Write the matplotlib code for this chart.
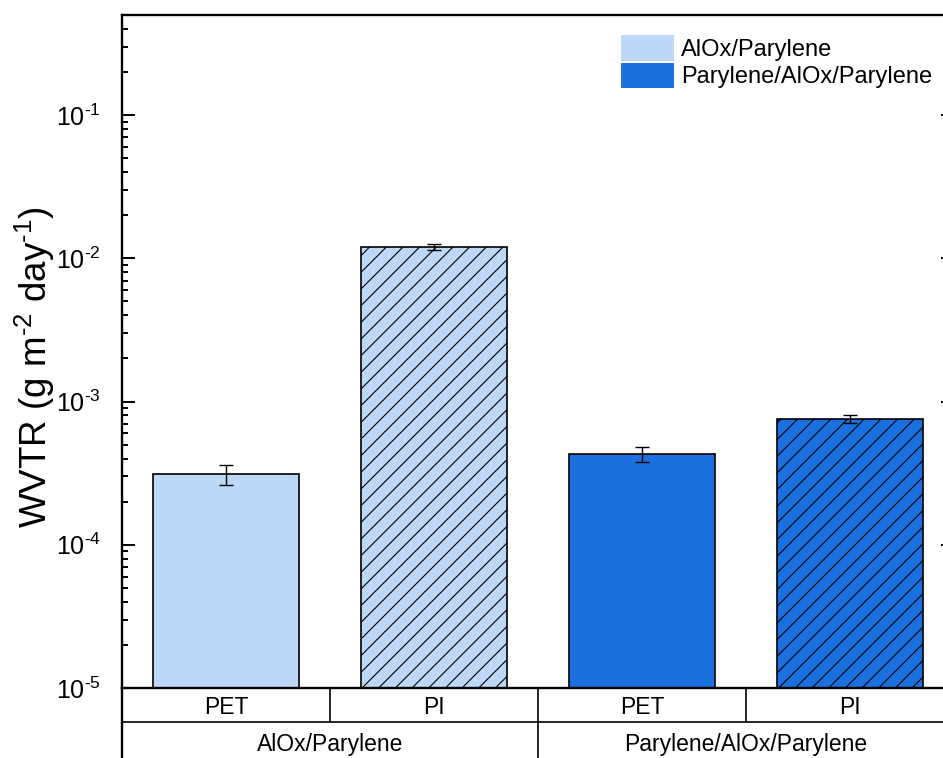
import numpy as np
import matplotlib
matplotlib.use("Agg")
import matplotlib.pyplot as plt
from matplotlib.patches import Patch
from matplotlib.ticker import FuncFormatter

plt.rcParams["font.family"] = ["Liberation Sans", "DejaVu Sans"]
plt.rcParams["mathtext.fontset"] = "custom"
plt.rcParams["mathtext.rm"] = "Liberation Sans"
plt.rcParams["mathtext.it"] = "Liberation Sans:italic"
plt.rcParams["mathtext.default"] = "regular"
plt.rcParams["hatch.linewidth"] = 0.8

# data
substrates = ["PET", "PI", "PET", "PI"]
stacks = ["AlOx/Parylene", "Parylene/AlOx/Parylene"]
wvtr = [3.1e-4, 1.2e-2, 4.3e-4, 7.6e-4]
wvtr_err = [0.5e-4, 0.05e-2, 0.5e-4, 0.5e-4]
stack_idx = [0, 0, 1, 1]

colors = ["#bdd7f6", "#1a70de"]
hatches = ["", "//", "", "//"]

fig = plt.figure(figsize=(9.43, 7.58), dpi=100)
W, H = 943, 758
ax = fig.add_axes([122 / W, 70 / H, (954 - 122) / W, 673 / H])

x = np.arange(len(wvtr)) + 0.5
for i in range(len(wvtr)):
    ax.bar(x[i], wvtr[i], width=0.7, color=colors[stack_idx[i]],
           edgecolor="black", linewidth=1.2, hatch=hatches[i], zorder=2)
ax.errorbar(x, wvtr, yerr=wvtr_err, fmt="none", ecolor="black",
            elinewidth=1.0, capsize=4.7, capthick=1.0, zorder=3)

ax.set_yscale("log")
ax.set_ylim(1e-5, 0.5)
ax.set_xlim(0, 4)


def dec_fmt(v, pos):
    e = int(round(np.log10(v)))
    sign = r"\text{-}" if e < 0 else ""
    return r"$10^{%s%d}$" % (sign, abs(e))


ax.yaxis.set_major_formatter(FuncFormatter(dec_fmt))

for s in ax.spines.values():
    s.set_linewidth(1.7)

ax.tick_params(axis="y", which="both", direction="in", right=True,
               labelsize=18, width=1.4, pad=15)
ax.tick_params(axis="y", which="major", length=9.4)
ax.tick_params(axis="y", which="minor", length=4.5)

ax.set_xticks(x)
ax.set_xticklabels(substrates, fontsize=16.5)
ax.tick_params(axis="x", length=0, pad=6)

ax.set_ylabel(r"WVTR (g m$^{\text{-}2}$ day$^{\text{-}1}$)", fontsize=26.5)
ax.yaxis.set_label_coords(-0.078, 0.477)

# category table below the axis
tr = ax.get_xaxis_transform()
row1 = -34 / 673
fig_bottom = -70 / 673
ax.plot([0, 4], [row1, row1], color="black", lw=1.2, transform=tr, clip_on=False)
ax.plot([0, 0], [0, fig_bottom], color="black", lw=1.7, transform=tr, clip_on=False)
for b in [1, 2, 3]:
    ax.plot([b, b], [0, row1], color="black", lw=1.2, transform=tr, clip_on=False)
ax.plot([2, 2], [row1, fig_bottom], color="black", lw=1.2, transform=tr, clip_on=False)
for k, name in enumerate(stacks):
    ax.text(2 * k + 1, -57 / 673, name, transform=tr, ha="center", va="center",
            fontsize=16.5)

handles = [Patch(facecolor=c, edgecolor="none") for c in colors]
ax.legend(handles, stacks, loc="upper left", bbox_to_anchor=(621 / W, 1 - 35 / H),
          bbox_transform=fig.transFigure, frameon=False, fontsize=17,
          handlelength=2.25, handleheight=1.3, handletextpad=0.3,
          labelspacing=0.08, borderpad=0, borderaxespad=0)

fig.savefig("out.png", dpi=100)
